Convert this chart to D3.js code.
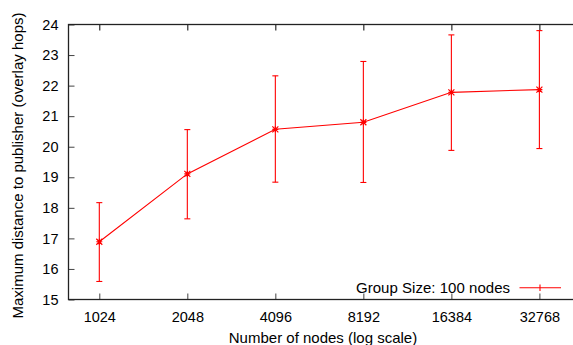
<!DOCTYPE html>
<html>
<head>
<meta charset="utf-8">
<script src="https://cdn.jsdelivr.net/npm/d3@7"></script>
<style>
body { margin: 0; background: #fff; }
text { font-family: "Liberation Sans", Arial, sans-serif; fill: #000; }
</style>
</head>
<body>
<svg width="573" height="345"></svg>
<script>
var nodes = [1024, 2048, 4096, 8192, 16384, 32768];
var meanHops = [16.89, 19.11, 20.57, 20.80, 21.78, 21.87];
var upperHops = [18.17, 20.56, 22.32, 22.79, 23.66, 23.80];
var lowerHops = [15.59, 17.64, 18.84, 18.83, 19.88, 19.94];
var yTicks = [15, 16, 17, 18, 19, 20, 21, 22, 23, 24];
var seriesLabel = "Group Size: 100 nodes";

var svg = d3.select("svg");
var red = "#ff0000";
// note: "top" is window.top, so use other names
var plotLeft = 68.5, plotRight = 579, plotTop = 24.5, plotBottom = 299.5;

var x = d3.scaleLog().base(2)
    .domain([1024 * Math.pow(2, -0.35), 32768 * Math.pow(2, 0.45)])
    .range([plotLeft, plotRight]);
var y = d3.scaleLinear().domain([15, 24]).range([plotBottom, plotTop]);

var data = nodes.map(function (n, i) {
    return {n: n, m: meanHops[i], hi: upperHops[i], lo: lowerHops[i]};
});

// axes (gnuplot style, ticks inward and mirrored)
var xAxis = d3.axisBottom(x).tickValues(nodes).tickFormat(d3.format("d"))
    .tickSizeInner(-6).tickSizeOuter(0).tickPadding(12);
var yAxis = d3.axisLeft(y).tickValues(yTicks)
    .tickSizeInner(-6).tickSizeOuter(0).tickPadding(10);

var gx = svg.append("g").attr("transform", "translate(0," + plotBottom + ")").call(xAxis);
var gy = svg.append("g").attr("transform", "translate(" + plotLeft + ",0)").call(yAxis);
svg.append("g").attr("transform", "translate(0," + plotTop + ")")
    .call(d3.axisTop(x).tickValues(nodes).tickFormat("").tickSizeInner(-6).tickSizeOuter(0))
    .select(".domain").remove();

[gx, gy].forEach(function (g) {
    g.select(".domain").remove();
    g.selectAll(".tick line").attr("stroke", "#444");
    g.selectAll(".tick text").style("font-size", "14.5px").attr("fill", "#000");
});
gx.selectAll(".tick text").attr("dy", "0.71em");

svg.append("rect")
    .attr("x", plotLeft).attr("y", plotTop)
    .attr("width", plotRight - plotLeft).attr("height", plotBottom - plotTop)
    .attr("fill", "none").attr("stroke", "#222").attr("stroke-width", 1.3);

// error bars
var eb = svg.append("g").attr("stroke", red).attr("stroke-width", 1.1);
eb.selectAll(".bar").data(data).enter().append("line")
    .attr("x1", function (d) { return x(d.n); })
    .attr("x2", function (d) { return x(d.n); })
    .attr("y1", function (d) { return y(d.lo); })
    .attr("y2", function (d) { return y(d.hi); });
eb.selectAll(".capHi").data(data).enter().append("line")
    .attr("x1", function (d) { return x(d.n) - 3; })
    .attr("x2", function (d) { return x(d.n) + 3; })
    .attr("y1", function (d) { return y(d.hi); })
    .attr("y2", function (d) { return y(d.hi); });
eb.selectAll(".capLo").data(data).enter().append("line")
    .attr("x1", function (d) { return x(d.n) - 3; })
    .attr("x2", function (d) { return x(d.n) + 3; })
    .attr("y1", function (d) { return y(d.lo); })
    .attr("y2", function (d) { return y(d.lo); });

// mean line
var line = d3.line().x(function (d) { return x(d.n); }).y(function (d) { return y(d.m); });
svg.append("path").datum(data)
    .attr("d", line).attr("fill", "none")
    .attr("stroke", red).attr("stroke-width", 1.1);

// star markers
svg.append("g").selectAll("path.pt").data(data).enter().append("path")
    .attr("d", function (d) {
        var cx = x(d.n), cy = y(d.m), s = 3;
        return "M" + (cx - s) + "," + cy + "H" + (cx + s) +
            "M" + cx + "," + (cy - s) + "V" + (cy + s) +
            "M" + (cx - s) + "," + (cy - s) + "L" + (cx + s) + "," + (cy + s) +
            "M" + (cx - s) + "," + (cy + s) + "L" + (cx + s) + "," + (cy - s);
    })
    .attr("stroke", red).attr("stroke-width", 1.2).attr("fill", "none");

// legend
var lg = svg.append("g");
lg.append("text").attr("x", 510).attr("y", 292.5)
    .attr("text-anchor", "end").style("font-size", "15px")
    .attr("textLength", 154).attr("lengthAdjust", "spacing")
    .text(seriesLabel);
lg.append("line").attr("x1", 519.5).attr("x2", 561).attr("y1", 287.7).attr("y2", 287.7)
    .attr("stroke", red).attr("stroke-width", 1.1);
lg.append("line").attr("x1", 540).attr("x2", 540).attr("y1", 284.5).attr("y2", 291)
    .attr("stroke", red).attr("stroke-width", 1.1);

// axis titles
svg.append("text").attr("x", (228.7 + 417.3) / 2).attr("y", 342.5)
    .attr("text-anchor", "middle").style("font-size", "15px")
    .text("Number of nodes (log scale)");
svg.append("text")
    .attr("transform", "translate(22.5,165.5) rotate(-90)")
    .attr("text-anchor", "middle").style("font-size", "15px")
    .text("Maximum distance to publisher (overlay hops)");
</script>
</body>
</html>
